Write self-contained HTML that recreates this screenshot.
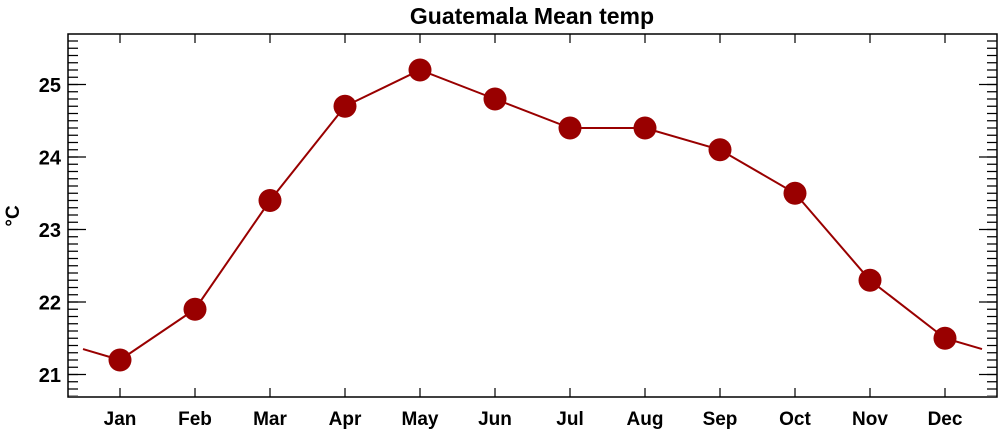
<!DOCTYPE html>
<html><head><style>body{margin:0;background:#fff}svg{display:block}</style></head><body>
<svg width="1000" height="432" xmlns="http://www.w3.org/2000/svg" font-family="Liberation Sans, sans-serif" font-weight="bold">
<text x="532" y="24" font-size="23" text-anchor="middle">Guatemala Mean temp</text>
<rect x="68" y="34" width="929" height="363" fill="none" stroke="#000" stroke-width="1.5"/>
<g stroke="#000">
<line x1="73" y1="40.4" x2="73" y2="396" stroke-width="10" stroke-dasharray="1.2 6.05"/>
<line x1="992" y1="40.4" x2="992" y2="396" stroke-width="10" stroke-dasharray="1.2 6.05"/>
<g stroke-width="1.2">
<line x1="68" y1="84.5" x2="86" y2="84.5"/><line x1="68" y1="157" x2="86" y2="157"/><line x1="68" y1="229.5" x2="86" y2="229.5"/><line x1="68" y1="302" x2="86" y2="302"/><line x1="68" y1="374.5" x2="86" y2="374.5"/>
<line x1="997" y1="84.5" x2="979" y2="84.5"/><line x1="997" y1="157" x2="979" y2="157"/><line x1="997" y1="229.5" x2="979" y2="229.5"/><line x1="997" y1="302" x2="979" y2="302"/><line x1="997" y1="374.5" x2="979" y2="374.5"/>
</g>
<line x1="68" y1="392.5" x2="997" y2="392.5" stroke-width="9" stroke-dasharray="1.2 73.8" stroke-dashoffset="-51.4"/>
<line x1="68" y1="38.5" x2="997" y2="38.5" stroke-width="9" stroke-dasharray="1.2 73.8" stroke-dashoffset="-51.4"/>
</g>
<g font-size="20" text-anchor="end">
<text x="61" y="92">25</text><text x="61" y="164.5">24</text><text x="61" y="237">23</text><text x="61" y="309.5">22</text><text x="61" y="382">21</text>
</g>
<g font-size="19" text-anchor="middle">
<text x="120" y="425">Jan</text><text x="195" y="425">Feb</text><text x="270" y="425">Mar</text><text x="345" y="425">Apr</text><text x="420" y="425">May</text><text x="495" y="425">Jun</text><text x="570" y="425">Jul</text><text x="645" y="425">Aug</text><text x="720" y="425">Sep</text><text x="795" y="425">Oct</text><text x="870" y="425">Nov</text><text x="945" y="425">Dec</text>
</g>
<text transform="translate(19,216) rotate(-90)" font-size="19" text-anchor="middle">°C</text>
<polyline points="83,349.1 120,360 195,309.25 270,200.5 345,106.25 420,70 495,99 570,128 645,128 720,149.75 795,193.25 870,280.25 945,338.25 982,349.1" fill="none" stroke="#990000" stroke-width="2"/>
<g fill="#990000">
<circle cx="120" cy="360" r="11.5"/><circle cx="195" cy="309.25" r="11.5"/><circle cx="270" cy="200.5" r="11.5"/><circle cx="345" cy="106.25" r="11.5"/><circle cx="420" cy="70" r="11.5"/><circle cx="495" cy="99" r="11.5"/><circle cx="570" cy="128" r="11.5"/><circle cx="645" cy="128" r="11.5"/><circle cx="720" cy="149.75" r="11.5"/><circle cx="795" cy="193.25" r="11.5"/><circle cx="870" cy="280.25" r="11.5"/><circle cx="945" cy="338.25" r="11.5"/>
</g>
</svg>
</body></html>
